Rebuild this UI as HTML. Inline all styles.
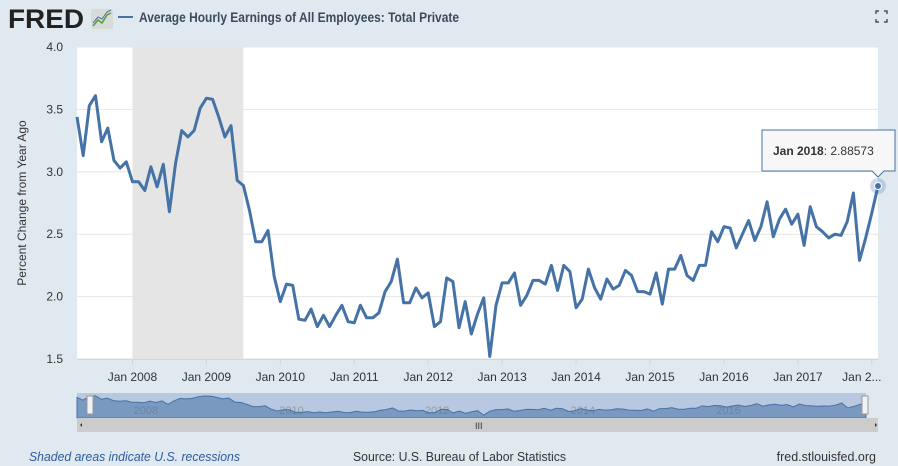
<!DOCTYPE html>
<html><head><meta charset="utf-8"><style>
body{margin:0;width:898px;height:466px;background:#e1e9f0;overflow:hidden;font-family:"Liberation Sans",sans-serif}
svg{display:block}
</style></head><body>
<svg id="c" width="898" height="466">
<rect x="0" y="0" width="898" height="466" fill="#e1e9f0"/>
<text x="8" y="28" font-size="27" font-weight="bold" fill="#222" textLength="76" lengthAdjust="spacingAndGlyphs">FRED</text>
<rect x="91" y="9" width="22" height="20" rx="2" fill="#d8dcd8"/>
<polyline points="93,26 98,20 102,23 107,15 111,13" fill="none" stroke="#5b9a3a" stroke-width="1.5"/>
<polyline points="93,23 98,17 102,19 107,12 111,10" fill="none" stroke="#4572a7" stroke-width="1"/>
<line x1="118" y1="17" x2="133" y2="17" stroke="#4572a7" stroke-width="2"/>
<text x="139" y="22" font-size="13.5" font-weight="bold" fill="#3c4a5c" textLength="320" lengthAdjust="spacingAndGlyphs">Average Hourly Earnings of All Employees: Total Private</text>
<g stroke="#333" stroke-width="1.2" fill="none"><path d="M876 14v-3h3M884 11h3v3M887 19v3h-3M879 22h-3v-3"/></g>
<rect x="77" y="47" width="801" height="312" fill="#fff"/>
<g id="grid"></g>
<g id="recess"></g>
<g id="ylab"></g>
<g id="xlab"></g>
<text transform="translate(26,203) rotate(-90)" text-anchor="middle" font-size="12" fill="#333">Percent Change from Year Ago</text>
<path id="line" fill="none" stroke="#4572a7" stroke-width="3" stroke-linejoin="round"/>
<circle id="hpt" r="8" fill="#4572a7" fill-opacity="0.25"/>
<circle id="hpt2" r="3.5" fill="#4572a7" stroke="#fff" stroke-width="1"/>
<g>
<path d="M762 130h133v41h-11l-6 6l-6-6h-110z" fill="#f7f7f7" stroke="#4572a7" stroke-width="1"/>
<text x="773" y="155" font-size="12" fill="#333"><tspan font-weight="bold">Jan 2018</tspan>: 2.88573</text>
</g>
<rect x="77" y="393" width="789" height="25" fill="#b8c8e0"/>
<g id="navx"></g>
<path id="nav" fill="#4572a7" fill-opacity="0.55" stroke="#4572a7" stroke-width="1"/>
<rect x="77" y="418" width="801" height="14" fill="#ccc"/>
<text x="475" y="429" font-size="9" fill="#333">III</text>
<path d="M80 425l2-2v4z M877 425l-2-2v4z" fill="#333"/>
<rect x="87" y="396" width="6" height="18" fill="#f2f2f2" stroke="#999"/>
<rect x="862" y="396" width="6" height="18" fill="#f2f2f2" stroke="#999"/>
<text x="29" y="461" font-size="12.5" font-style="italic" fill="#2c5b9e" textLength="211" lengthAdjust="spacingAndGlyphs">Shaded areas indicate U.S. recessions</text>
<text x="353" y="461" font-size="12.5" fill="#333" textLength="213" lengthAdjust="spacingAndGlyphs">Source: U.S. Bureau of Labor Statistics</text>
<text x="876" y="461" text-anchor="end" font-size="12.5" fill="#333">fred.stlouisfed.org</text>
</svg>
<script>
const values=[3.44,3.13,3.53,3.61,3.24,3.35,3.09,3.03,3.08,2.92,2.92,2.85,3.04,2.88,3.06,2.68,3.07,3.33,3.28,3.33,3.51,3.59,3.58,3.44,3.28,3.37,2.93,2.89,2.69,2.44,2.44,2.53,2.16,1.96,2.10,2.09,1.82,1.81,1.90,1.76,1.85,1.76,
1.85,1.93,1.80,1.79,1.93,1.83,1.83,1.87,2.04,2.12,
2.30,1.95,1.95,2.07,1.99,2.03,1.76,1.80,2.15,2.12,
1.75,1.96,1.70,1.86,1.99,1.52,1.93,2.11,2.11,2.19,
1.93,2.01,2.13,2.13,2.10,2.25,2.05,2.25,2.20,1.91,
1.98,2.22,2.07,1.98,2.14,2.06,2.09,2.21,2.17,2.04,
2.04,2.02,2.19,1.94,2.22,2.22,2.33,2.17,2.13,2.25,
2.25,2.52,2.44,2.56,2.55,2.39,2.50,2.61,2.45,2.56,
2.76,2.48,2.62,2.70,2.58,2.66,2.41,2.72,2.56,2.52,
2.47,2.50,2.49,2.60,2.83,2.29,2.47,2.67,2.88573];
const yTicks=[1.5,2.0,2.5,3.0,3.5,4.0];
const xTickLabels=["Jan 2008","Jan 2009","Jan 2010","Jan 2011","Jan 2012","Jan 2013","Jan 2014","Jan 2015","Jan 2016","Jan 2017","Jan 2..."];
const xTickMonths=[9,21,33,45,57,69,81,93,105,117,129];
const recession=[9,27];
const navLabels=["2008","2010","2012","2014","2016"];
const navMonths=[9,33,57,81,105];
const NS="http://www.w3.org/2000/svg";
const n=values.length;
const X0=77,X1=878,Y0=359,Y1=47;
const xs=i=>X0+(X1-X0)*i/(n-1);
const ys=v=>Y0-(v-1.5)/(4.0-1.5)*(Y0-Y1);
function mk(t,a,p){const e=document.createElementNS(NS,t);for(const k in a)e.setAttribute(k,a[k]);p.appendChild(e);return e;}
const grid=document.getElementById('grid'),yl=document.getElementById('ylab'),xl=document.getElementById('xlab');
yTicks.forEach(v=>{
 const g=mk('line',{x1:X0,x2:X1,y1:ys(v),y2:ys(v),stroke:'#e6e6e6','stroke-width':1},grid);
 
 
 const t=mk('text',{x:63,y:ys(v)+4,'text-anchor':'end','font-size':12,fill:'#333'},yl);
 t.textContent=v.toFixed(1);
 
 
});
const r=mk('rect',{x:xs(recession[0]),y:Y1,width:xs(recession[1])-xs(recession[0]),height:Y0-Y1,fill:'#e5e5e5'},document.getElementById('recess'));


xTickLabels.forEach((l,k)=>{
 const t=mk('text',{x:xs(xTickMonths[k])+ (k==10?-10:0),y:381,'text-anchor':'middle','font-size':12,fill:'#333'},xl);
 t.textContent=l;
 
 
 const tk=mk('line',{x1:xs(xTickMonths[k]),x2:xs(xTickMonths[k]),y1:Y0,y2:Y0+6,stroke:'#ccd6eb'},xl);
 
 
});
mk('line',{x1:X0,x2:X1,y1:Y0+0.5,y2:Y0+0.5,stroke:'#ccd6eb'},xl);
let d='';values.forEach((v,i)=>{d+=(i?'L':'M')+xs(i).toFixed(1)+' '+ys(v).toFixed(1);});
document.getElementById('line').setAttribute('d',d);
['hpt','hpt2'].forEach(id=>{const c=document.getElementById(id);c.setAttribute('cx',xs(n-1));c.setAttribute('cy',ys(values[n-1]));});
const NX0=77,NX1=866,NYb=418,NYt=395;
const nx=i=>NX0+(NX1-NX0)*i/(n-1);
const ny=v=>NYb-(v-1.2)/(3.7-1.2)*(NYb-NYt);
let nd='M'+NX0+' '+NYb;values.forEach((v,i)=>{nd+='L'+nx(i).toFixed(1)+' '+ny(v).toFixed(1);});nd+='L'+NX1+' '+NYb+'Z';
document.getElementById('nav').setAttribute('d',nd);
const nvx=document.getElementById('navx');
navLabels.forEach((l,k)=>{
 const t=mk('text',{x:nx(navMonths[k])+2,y:414,'font-size':11,fill:'#999'},nvx);
 t.textContent=l;
 
 
});
</script>
</body></html>
